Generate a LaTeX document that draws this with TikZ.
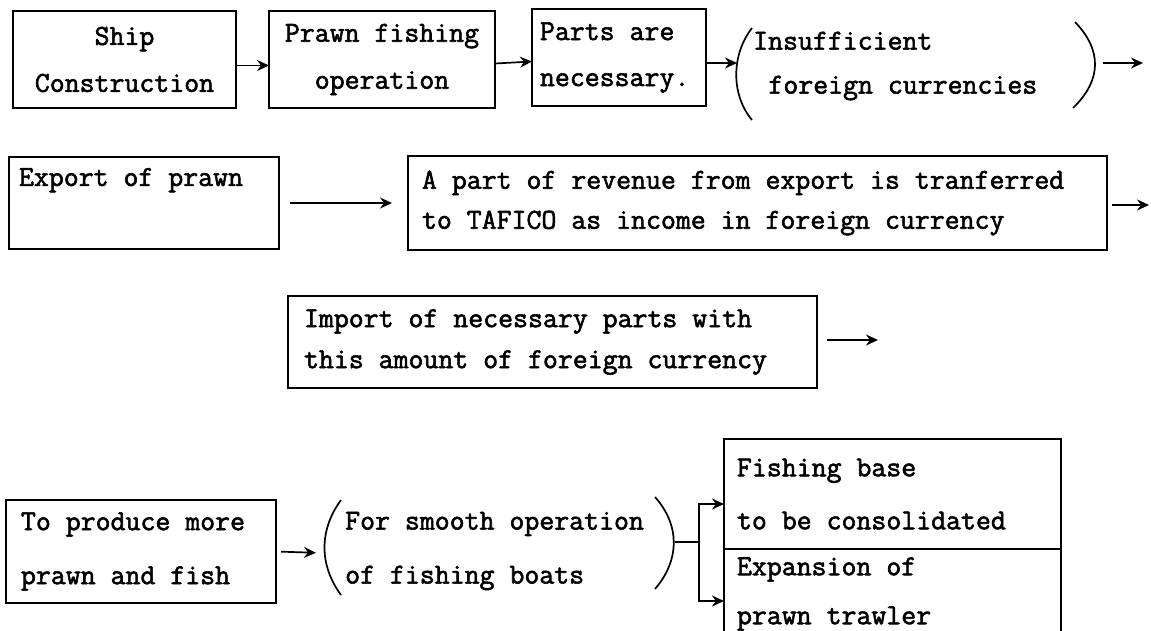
\documentclass[tikz,border=0pt]{standalone}
\usepackage{fontspec}
\setmonofont{Latin Modern Mono}[FakeBold=2]
\usetikzlibrary{arrows.meta,positioning}
\newcommand{\twfont}[1]{\ttfamily\fontsize{29}{#1}\selectfont}

\begin{document}
\begin{tikzpicture}[x=1pt, y=-1pt,
    box/.style={rectangle, draw=black, line width=1.6pt, anchor=north west, outer sep=0pt, inner xsep=10pt, inner ysep=0pt, align=flush left, font=\twfont{40}},
    txt/.style={anchor=west, inner sep=0pt, align=left, font=\twfont{44}},
    arr/.style={-{Stealth[length=12pt,width=11pt,inset=4pt]}, line width=1.7pt},
    link/.style={line width=1.6pt},
    paren/.style={line width=1.7pt}
]
\useasboundingbox (0,0) rectangle (1151,630);
% first row
\node[box, minimum width=223pt, minimum height=97pt, text width=203pt, align=flush center, font=\twfont{47}] (ship) at (13,11) {Ship\\Construction};
\node[box, minimum width=226pt, minimum height=97pt, text width=206pt, align=flush center, font=\twfont{47}] (prawn) at (269,11) {Prawn fishing\\operation};
\node[box, minimum width=174pt, minimum height=97pt, text width=158pt, inner xsep=8pt, font=\twfont{46}] (parts) at (532,9) {Parts are\\necessary.};
\node[txt] (insuff) at (753,66) {Insufficient\\\hspace*{0.525em}foreign currencies};
\coordinate (insuff-l) at (737,63);
\coordinate (insuff-r) at (1097,63);
\coordinate (out-1) at (1143,63);
\draw[paren] (752,28) .. controls (731,55) and (731,95) .. (752,120);
\draw[paren] (1075,22) .. controls (1102,50) and (1102,80) .. (1073,108);
\draw[arr] ([yshift=-6pt]ship.east) -- ([yshift=-6pt]prawn.west);
\draw[arr] ([yshift=-4pt]prawn.east) -- ([yshift=-4pt]parts.west);
\draw[arr] (parts.east |- insuff-l) -- (insuff-l);
\draw[arr, shorten <=6pt] (insuff-r) -- (out-1);
% second row
\node[box, minimum width=270pt, minimum height=92pt, text width=250pt] (export) at (9,157) {Export of prawn\\\strut};
\node[box, minimum width=699pt, minimum height=94pt, text width=671pt, inner xsep=14pt] (revenue) at (408,156) {A part of revenue from export is tranferred\\to TAFICO as income in foreign currency};
\coordinate (out-2) at (1149,205);
\draw[arr, shorten <=11pt, shorten >=16pt] (export.east) -- (revenue.west);
\draw[arr, shorten <=5pt] (revenue.east |- out-2) -- (out-2);
% third row
\node[box, minimum width=529pt, minimum height=92pt, text width=497pt, inner xsep=16pt, font=\twfont{41}] (import) at (288,296) {Import of necessary parts with\\this amount of foreign currency};
\coordinate (out-3) at (878,340);
\draw[arr, shorten <=10pt] (import.east |- out-3) -- (out-3);
% fourth row
\node[box, minimum width=270pt, minimum height=103pt, text width=240pt, inner xsep=15pt, font=\twfont{54}] (produce) at (6,500) {To produce more\\prawn and fish};
\node[txt, font=\twfont{54}] (smooth) at (345,551) {For smooth operation\\of fishing boats};
\coordinate (smooth-l) at (323,553);
\coordinate (smooth-r) at (675,542);
\coordinate (fork) at (699,542);
\draw[paren] (341,500) .. controls (319,530) and (319,565) .. (341,595);
\draw[paren] (655,497) .. controls (680,525) and (680,560) .. (655,589);
\node[box, minimum width=337pt, minimum height=110pt, text width=311pt, inner xsep=13pt, font=\twfont{53}] (fishing) at (724,439) {Fishing base\\to be consolidated};
\node[box, minimum width=337pt, minimum height=90pt, text width=311pt, inner xsep=13pt, font=\twfont{49}] (expansion) at (724,549) {Expansion of\\prawn trawler};
\draw[arr, shorten <=5pt, shorten >=7pt] (produce.east) -- (smooth-l);
\draw[link] (smooth-r) -- (fork);
\draw[arr] (fork) |- ([yshift=-10pt]fishing.west);
\draw[arr] (fork) |- ([yshift=-7pt]expansion.west);
\end{tikzpicture}
\end{document}
